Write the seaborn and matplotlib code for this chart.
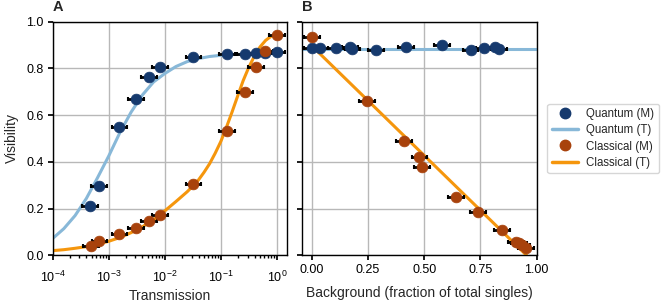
import seaborn as sns
import pandas as pd
import matplotlib.pyplot as plt
from matplotlib.lines import Line2D

# Panel A: visibility vs transmission (measured)
q_trans = [4.6e-4, 6.7e-4, 1.55e-3, 3.08e-3, 5.3e-3, 8.3e-3, 0.0325, 0.128, 0.272, 0.427, 0.618, 1.0]
q_vis = [0.211, 0.296, 0.551, 0.671, 0.764, 0.807, 0.849, 0.863, 0.863, 0.864, 0.864, 0.869]
c_trans = [4.85e-4, 6.8e-4, 1.55e-3, 3.08e-3, 5.3e-3, 8.3e-3, 0.0325, 0.128, 0.272, 0.427, 0.618, 1.0]
c_vis = [0.040, 0.062, 0.090, 0.116, 0.147, 0.172, 0.305, 0.532, 0.700, 0.808, 0.874, 0.943]
trans_err_factor = 1.38   # multiplicative uncertainty on transmission

# Panel A: theory curves
q_theory_trans = [1e-4, 1.58e-4, 2.51e-4, 3.98e-4, 6.31e-4,
                  1e-3, 1.58e-3, 2.51e-3, 3.98e-3, 6.31e-3,
                  1e-2, 1.58e-2, 2.51e-2, 3.98e-2, 6.31e-2,
                  0.1, 0.158, 0.251, 0.398, 0.631, 1.0]
q_theory = [0.072, 0.114, 0.170, 0.243, 0.332, 0.425, 0.525, 0.613, 0.686, 0.742,
            0.778, 0.808, 0.829, 0.842, 0.851, 0.856, 0.859, 0.861, 0.862, 0.863, 0.864]
c_theory_trans = [1e-4, 1.58e-4, 2.51e-4, 3.98e-4, 6.31e-4,
                  1e-3, 1.58e-3, 2.51e-3, 3.98e-3, 6.31e-3,
                  1e-2, 1.58e-2, 2.51e-2, 3.16e-2, 3.98e-2, 5.01e-2, 6.31e-2, 7.94e-2,
                  0.1, 0.126, 0.158, 0.2, 0.251, 0.316, 0.398, 0.501, 0.631, 0.794, 1.0]
c_theory = [0.020, 0.024, 0.030, 0.037, 0.047, 0.060, 0.076, 0.097, 0.122, 0.152,
            0.190, 0.230, 0.272, 0.296, 0.322, 0.355, 0.392, 0.437,
            0.487, 0.548, 0.612, 0.682, 0.748, 0.805, 0.853, 0.892, 0.920, 0.938, 0.948]

# Panel B: visibility vs background fraction (measured)
q_bg = [0.0, 0.037, 0.108, 0.171, 0.181, 0.285, 0.420, 0.580, 0.706, 0.765, 0.813, 0.832]
q_bg_vis = [0.886, 0.886, 0.886, 0.893, 0.882, 0.879, 0.890, 0.899, 0.879, 0.886, 0.890, 0.882]
c_bg = [0.0, 0.245, 0.410, 0.479, 0.491, 0.643, 0.740, 0.847, 0.908, 0.921, 0.936, 0.951]
c_bg_vis = [0.936, 0.662, 0.491, 0.419, 0.379, 0.248, 0.184, 0.108, 0.058, 0.051, 0.044, 0.030]
bg_err = 0.035

# Panel B: theory lines
q_bg_theory_x = [-0.1, 1.1]
q_bg_theory_y = [0.885, 0.885]
c_bg_theory_x = [0.0, 0.955]
c_bg_theory_y = [0.897, 0.0]

navy = "#163a6e"
rust = "#a8420c"
lightblue = "#88b8d8"
orange = "#f5960d"

sns.set_theme(style="whitegrid", rc={
    "axes.edgecolor": "black",
    "axes.linewidth": 1.0,
    "grid.color": "#b8b8b8",
    "grid.linewidth": 1.0,
    "xtick.bottom": True,
    "ytick.left": True,
    "xtick.major.size": 3.5,
    "ytick.major.size": 3.5,
    "xtick.minor.size": 2,
    "xtick.color": "black",
    "ytick.color": "black",
})
plt.rcParams["font.family"] = ["Liberation Sans", "DejaVu Sans"]
plt.rcParams["mathtext.fontset"] = "custom"
plt.rcParams["mathtext.rm"] = "Liberation Sans"
plt.rcParams["mathtext.it"] = "Liberation Sans:italic"

fig = plt.figure(figsize=(6.62, 3.06), dpi=100)
ax1 = fig.add_axes([0.0796, 0.1657, 0.3535, 0.7634])
ax2 = fig.add_axes([0.4566, 0.1657, 0.3541, 0.7634])

dfq = pd.DataFrame({"T": q_trans, "V": q_vis})
dfc = pd.DataFrame({"T": c_trans, "V": c_vis})

# panel A
sns.lineplot(x=q_theory_trans, y=q_theory, ax=ax1, color=lightblue, lw=2.2, zorder=2)
sns.lineplot(x=c_theory_trans, y=c_theory, ax=ax1, color=orange, lw=2.2, zorder=2)
for df, col in [(dfq, navy), (dfc, rust)]:
    lo = df["T"] - df["T"] / trans_err_factor
    hi = df["T"] * trans_err_factor - df["T"]
    ax1.errorbar(df["T"], df["V"], xerr=[lo, hi], fmt="none",
                 ecolor="black", elinewidth=2, capsize=1.2, capthick=1.5, zorder=3)
    sns.scatterplot(data=df, x="T", y="V", ax=ax1, color=col, s=60,
                    edgecolor=col, linewidth=0.5, zorder=4)
ax1.set_xscale("log")
ax1.set_xlim(1e-4, 1.5)
ax1.set_ylim(0, 1)
ax1.set_yticks([0, 0.2, 0.4, 0.6, 0.8, 1.0])
ax1.set_yticklabels(["0.0", "0.2", "0.4", "0.6", "0.8", "1.0"])
ax1.set_xlabel("Transmission", fontsize=10, labelpad=3)
ax1.set_ylabel("Visibility", fontsize=10, labelpad=5)
ax1.grid(True, which="major")
ax1.grid(False, which="minor")
ax1.tick_params(labelsize=9, pad=3)
ax1.tick_params(axis="x", which="both", pad=7)
ax1.text(0, 1.035, "A", transform=ax1.transAxes, fontsize=10.5, fontweight="bold", va="bottom")

# panel B
dfqb = pd.DataFrame({"B": q_bg, "V": q_bg_vis})
dfcb = pd.DataFrame({"B": c_bg, "V": c_bg_vis})
sns.lineplot(x=q_bg_theory_x, y=q_bg_theory_y, ax=ax2, color=lightblue, lw=2.2, zorder=2)
sns.lineplot(x=c_bg_theory_x, y=c_bg_theory_y, ax=ax2, color=orange, lw=2.2, zorder=2)
for df, col in [(dfqb, navy), (dfcb, rust)]:
    ax2.errorbar(df["B"], df["V"], xerr=bg_err, fmt="none",
                 ecolor="black", elinewidth=2, capsize=1.2, capthick=1.5, zorder=3)
    sns.scatterplot(data=df, x="B", y="V", ax=ax2, color=col, s=60,
                    edgecolor=col, linewidth=0.5, zorder=4)
ax2.set_xlim(-0.042, 1.0)
ax2.set_ylim(0, 1)
ax2.set_xticks([0, 0.25, 0.5, 0.75, 1.0])
ax2.set_xticklabels(["0.00", "0.25", "0.50", "0.75", "1.00"])
ax2.set_yticks([0, 0.2, 0.4, 0.6, 0.8, 1.0])
ax2.set_yticklabels([])
ax2.set_xlabel("Background (fraction of total singles)", fontsize=10, labelpad=7)
ax2.set_ylabel("")
ax2.tick_params(labelsize=9, pad=3)
ax2.text(0, 1.035, "B", transform=ax2.transAxes, fontsize=10.5, fontweight="bold", va="bottom")

handles = [
    Line2D([], [], marker="o", ls="none", color=navy, markersize=7.5),
    Line2D([], [], color=lightblue, lw=2.5),
    Line2D([], [], marker="o", ls="none", color=rust, markersize=7.5),
    Line2D([], [], color=orange, lw=2.5),
]
labels = ["Quantum (M)", "Quantum (T)", "Classical (M)", "Classical (T)"]
ax2.legend(handles, labels, loc="center left", bbox_to_anchor=(1.045, 0.5),
           borderaxespad=0, fontsize=8.3, frameon=True, edgecolor="#cccccc",
           handlelength=2.3, handletextpad=0.7, labelspacing=0.35, borderpad=0.4)

plt.savefig("out.png", dpi=100)
